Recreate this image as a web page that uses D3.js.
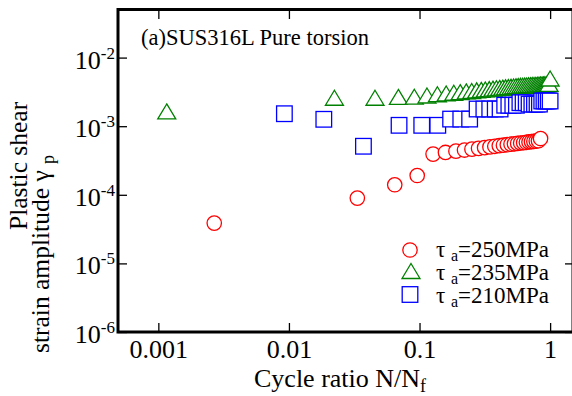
<!DOCTYPE html>
<html>
<head>
<meta charset="utf-8">
<script src="https://cdn.jsdelivr.net/npm/d3@7"></script>
<style>
  body { margin: 0; background: #fff; }
  svg { display: block; font-family: "Liberation Serif", "Times New Roman", serif; }
</style>
</head>
<body>
<div id="chart"></div>
<script>
// values (N/Nf, plastic shear strain amplitude)
var ratio250 = [0.00268, 0.0334, 0.0646, 0.096, 0.127, 0.158, 0.19, 0.221, 0.252, 0.283, 0.315, 0.346, 0.377, 0.408,
  0.439, 0.47, 0.502, 0.533, 0.564, 0.595, 0.627, 0.658, 0.689, 0.72, 0.751, 0.783, 0.814, 0.845];
var gamma250 = [3.87e-5, 8.95e-5, 1.40e-4, 1.91e-4, 3.92e-4, 4.14e-4, 4.33e-4, 4.49e-4, 4.63e-4, 4.75e-4, 4.87e-4, 4.99e-4, 5.09e-4, 5.20e-4,
  5.28e-4, 5.37e-4, 5.47e-4, 5.54e-4, 5.61e-4, 5.69e-4, 5.74e-4, 5.82e-4, 5.89e-4, 5.94e-4, 6.00e-4, 6.07e-4, 6.13e-4, 6.6e-4];

var ratio235 = [0.00116, 0.0223, 0.0456, 0.0689, 0.0912, 0.114, 0.137, 0.160, 0.183, 0.205, 0.228, 0.251, 0.274, 0.297, 0.319,
  0.342, 0.365, 0.388, 0.411, 0.434, 0.456, 0.479, 0.502, 0.525, 0.548, 0.570, 0.593, 0.616, 0.639, 0.662,
  0.684, 0.707, 0.730, 0.753, 0.776, 0.798, 0.821, 0.844, 0.867, 0.890, 0.912, 0.935, 0.958, 0.981, 1.0];
var gamma235 = [1.64e-3, 2.60e-3, 2.60e-3, 2.67e-3, 2.69e-3, 2.80e-3, 2.92e-3, 3.00e-3, 3.07e-3, 3.13e-3, 3.21e-3, 3.26e-3, 3.33e-3, 3.38e-3, 3.43e-3,
  3.47e-3, 3.52e-3, 3.57e-3, 3.61e-3, 3.64e-3, 3.68e-3, 3.72e-3, 3.75e-3, 3.79e-3, 3.82e-3, 3.85e-3, 3.87e-3, 3.89e-3, 3.91e-3, 3.92e-3,
  3.95e-3, 3.96e-3, 3.98e-3, 3.99e-3, 4.00e-3, 4.02e-3, 4.03e-3, 4.05e-3, 4.06e-3, 4.06e-3, 4.08e-3, 4.10e-3, 4.12e-3, 4.15e-3, 4.96e-3];

var ratio210 = [0.00923, 0.0185, 0.0372, 0.0697, 0.104, 0.138, 0.173, 0.207, 0.242, 0.276, 0.311, 0.345, 0.380, 0.414, 0.449,
  0.483, 0.518, 0.552, 0.587, 0.621, 0.656, 0.690, 0.725, 0.759, 0.794, 0.828, 0.863, 0.897, 0.932, 0.966, 1.0];
var gamma210 = [1.52e-3, 1.26e-3, 5.1e-4, 1.03e-3, 1.03e-3, 1.03e-3, 1.27e-3, 1.27e-3, 1.27e-3, 1.78e-3, 1.78e-3, 1.78e-3, 1.78e-3, 1.78e-3, 2.02e-3,
  2.02e-3, 2.02e-3, 2.02e-3, 2.2e-3, 2.2e-3, 2.2e-3, 2.1e-3, 2.1e-3, 2.1e-3, 2.1e-3, 2.1e-3, 2.33e-3, 2.33e-3, 2.33e-3, 2.33e-3, 2.33e-3];

var seriesNames = ["250MPa", "235MPa", "210MPa"];
var xTicks = [0.001, 0.01, 0.1, 1];
var xTickLabels = ["0.001", "0.01", "0.1", "1"];
var yTicks = [1e-6, 1e-5, 1e-4, 1e-3, 1e-2];
var yTickExponents = ["-6", "-5", "-4", "-3", "-2"];

var svgWidth = 572;
var svgHeight = 396;
var margin = { top: 10, left: 118 };
var width = 455;
var height = 322;

var svg = d3.select("#chart")
  .append("svg")
  .attr("width", svgWidth)
  .attr("height", svgHeight);

var chartGroup = svg.append("g")
  .attr("transform", `translate(${margin.left}, ${margin.top})`);

var xScale = d3.scaleLog().domain([4.91e-4, 1.497]).range([0, width]);
var yScale = d3.scaleLog().domain([1e-6, 0.0494]).range([height, 0]);

function zip(xs, ys) {
  return xs.map((x, i) => ({ x: x, y: ys[i] }));
}

// markers: white filled, later ones sit on top of earlier ones
function trianglePath(w, h) {
  return `M0,${-h / 2}L${w / 2},${h / 2}L${-w / 2},${h / 2}Z`;
}

chartGroup.selectAll("circle.s250")
  .data(zip(ratio250, gamma250))
  .enter()
  .append("circle")
  .attr("class", "s250")
  .attr("cx", d => xScale(d.x))
  .attr("cy", d => yScale(d.y))
  .attr("r", 7.2)
  .attr("fill", "white")
  .attr("stroke", "#ff0000")
  .attr("stroke-width", 1.3);

chartGroup.selectAll("path.s235")
  .data(zip(ratio235, gamma235))
  .enter()
  .append("path")
  .attr("class", "s235")
  .attr("d", trianglePath(18, 15))
  .attr("transform", d => `translate(${xScale(d.x)}, ${yScale(d.y)})`)
  .attr("fill", "white")
  .attr("stroke", "#008000")
  .attr("stroke-width", 1.3);

chartGroup.selectAll("rect.s210")
  .data(zip(ratio210, gamma210))
  .enter()
  .append("rect")
  .attr("class", "s210")
  .attr("x", d => xScale(d.x) - 7.8)
  .attr("y", d => yScale(d.y) - 7.8)
  .attr("width", 15.6)
  .attr("height", 15.6)
  .attr("fill", "white")
  .attr("stroke", "#0000ff")
  .attr("stroke-width", 1.3);

// axes, ticks pointing inward on all four sides
var bottomAxis = d3.axisBottom(xScale).tickValues(xTicks).tickSize(-9).tickPadding(8)
  .tickFormat((d, i) => xTickLabels[i]);
var topAxis = d3.axisTop(xScale).tickValues(xTicks).tickSize(-9).tickFormat("");
var leftAxis = d3.axisLeft(yScale).tickValues(yTicks).tickSize(-9).tickFormat("");
var rightAxis = d3.axisRight(yScale).tickValues(yTicks).tickSize(-8).tickFormat("");

var xAxisG = chartGroup.append("g").attr("transform", `translate(0, ${height})`).call(bottomAxis);
chartGroup.append("g").call(topAxis);
var yAxisG = chartGroup.append("g").call(leftAxis);
chartGroup.append("g").attr("transform", `translate(${width}, 0)`).call(rightAxis);

chartGroup.selectAll(".domain").remove();
chartGroup.selectAll(".tick line").attr("stroke", "black").attr("stroke-width", 1.3);

xAxisG.selectAll(".tick text")
  .attr("font-family", "Liberation Serif")
  .attr("font-size", 26)
  .attr("fill", "black");

var yLabels = yAxisG.selectAll(".tick")
  .append("text")
  .attr("x", -3)
  .attr("y", 10.5)
  .attr("text-anchor", "end")
  .attr("fill", "black")
  .attr("font-family", "Liberation Serif");
yLabels.append("tspan").attr("font-size", 26).text("10");
yLabels.append("tspan").attr("font-size", 17).attr("dy", -10).text((d, i) => yTickExponents[i]);

// frame
chartGroup.append("rect")
  .attr("x", 0)
  .attr("y", -0.5)
  .attr("width", width)
  .attr("height", height + 0.5)
  .attr("fill", "none")
  .attr("stroke", "black")
  .attr("stroke-width", 3);

// annotation
chartGroup.append("text")
  .attr("x", 23)
  .attr("y", 35)
  .attr("font-size", 22.5)
  .text("(a)SUS316L Pure torsion");

// legend
var legendY = [240, 261, 284.5];
var legendBaseline = [247, 270, 293];
var legendX = 292;

chartGroup.append("circle")
  .attr("cx", legendX).attr("cy", legendY[0]).attr("r", 7.2)
  .attr("fill", "white").attr("stroke", "#ff0000").attr("stroke-width", 1.3);
chartGroup.append("path")
  .attr("d", trianglePath(18, 15))
  .attr("transform", `translate(${legendX + 1}, ${legendY[1]})`)
  .attr("fill", "white").attr("stroke", "#008000").attr("stroke-width", 1.3);
chartGroup.append("rect")
  .attr("x", legendX - 7.8).attr("y", legendY[2] - 7.8).attr("width", 15.6).attr("height", 15.6)
  .attr("fill", "white").attr("stroke", "#0000ff").attr("stroke-width", 1.3);

seriesNames.forEach((name, i) => {
  var t = chartGroup.append("text")
    .attr("x", 318)
    .attr("y", legendBaseline[i])
    .attr("font-size", 23);
  t.append("tspan").text("τ ");
  t.append("tspan").attr("font-size", 16).attr("dy", 4).text("a");
  t.append("tspan").attr("dy", -4).text("=" + name);
});

// axis titles
var xTitle = svg.append("text")
  .attr("x", 254)
  .attr("y", 387)
  .attr("font-size", 26);
xTitle.append("tspan").text("Cycle ratio N/N");
xTitle.append("tspan").attr("font-size", 18).attr("dy", 5).text("f");

svg.append("text")
  .attr("transform", "rotate(-90)")
  .attr("x", -230)
  .attr("y", 27)
  .attr("font-size", 25.5)
  .text("Plastic shear");

var yTitle2 = svg.append("text")
  .attr("transform", "rotate(-90)")
  .attr("x", -353)
  .attr("y", 49)
  .attr("font-size", 25.5);
yTitle2.append("tspan").text("strain amplitude γ ");
yTitle2.append("tspan").attr("font-size", 18).attr("dy", 5).text("p");
</script>
</body>
</html>
